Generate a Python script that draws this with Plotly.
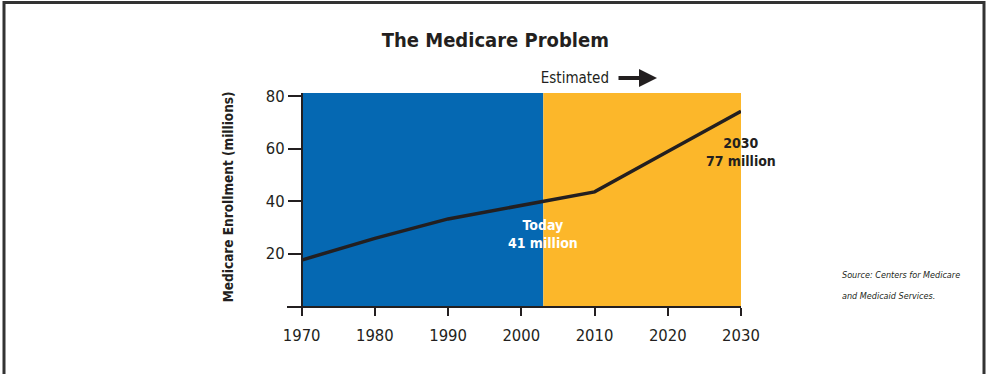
import plotly.graph_objects as go

# Data
years = [1970, 1980, 1990, 2000, 2003, 2010, 2020, 2030]
enrollment = [17.5, 25.8, 33.2, 38.3, 39.8, 43.5, 58.9, 74.2]
today_year = 2003
start_year = 1970
end_year = 2030
band_top = 81.2
x_ticks = [1970, 1980, 1990, 2000, 2010, 2020, 2030]
y_ticks = [20, 40, 60, 80]

BLUE = "#0568B2"
ORANGE = "#FCB72A"
INK = "#231F20"
FONT = "DejaVu Sans, sans-serif"

W, H = 987, 374
ML, MR, MT, MB = 287, 246, 93, 68
PW = W - ML - MR
PH = H - MT - MB


def px(xp):
    return (xp - ML) / PW


def py(yp):
    return (H - MB - yp) / PH


fig = go.Figure()

fig.add_trace(go.Scatter(
    x=years, y=enrollment, mode="lines",
    line=dict(color=INK, width=3.5),
    hoverinfo="skip", showlegend=False,
))

shapes = [
    dict(type="rect", xref="x", yref="y", x0=start_year, x1=today_year, y0=0, y1=band_top,
         fillcolor=BLUE, line=dict(width=0), layer="below"),
    dict(type="rect", xref="x", yref="y", x0=today_year, x1=end_year, y0=0, y1=band_top,
         fillcolor=ORANGE, line=dict(width=0), layer="below"),
    # frame
    dict(type="path", xref="paper", yref="paper",
         path=f"M {px(4)} {py(380)} L {px(4)} {py(2.5)} L {px(984)} {py(2.5)} L {px(984)} {py(380)}",
         line=dict(color="#333333", width=3)),
]

annotations = [
    dict(text="<b>The Medicare Problem</b>", xref="paper", yref="paper",
         x=px(495), y=py(40), showarrow=False,
         font=dict(family=FONT, size=20, color=INK), xanchor="center", yanchor="middle"),
    dict(text="<b>Medicare Enrollment (millions)</b>", xref="paper", yref="paper",
         x=px(228), y=py(197), showarrow=False, textangle=-90,
         font=dict(family=FONT, size=13.5, color=INK), xanchor="center", yanchor="middle"),
    dict(text="Estimated", xref="paper", yref="paper",
         x=px(575), y=py(78), showarrow=False,
         font=dict(family=FONT, size=15, color=INK), xanchor="center", yanchor="middle"),
    dict(text="", xref="paper", yref="paper", x=px(657), y=py(78),
         ax=-40, ay=0, showarrow=True, arrowhead=2, arrowsize=0.9, arrowwidth=4,
         arrowcolor=INK),
    dict(text="<b>Today<br>41 million</b>", xref="x", yref="paper",
         x=today_year, y=py(234), showarrow=False,
         font=dict(family=FONT, size=14, color="white"), xanchor="center", yanchor="middle",
         align="center"),
    dict(text="<b>2030<br>77 million</b>", xref="x", yref="paper",
         x=end_year, y=py(152), showarrow=False,
         font=dict(family=FONT, size=14, color=INK), xanchor="center", yanchor="middle",
         align="center"),
    dict(text="<i>Source: Centers for Medicare</i>", xref="paper", yref="paper",
         x=px(840), y=py(275), showarrow=False, align="left",
         font=dict(family=FONT, size=9, color=INK), xanchor="left", yanchor="middle"),
    dict(text="<i>and Medicaid Services.</i>", xref="paper", yref="paper",
         x=px(840), y=py(296), showarrow=False, align="left",
         font=dict(family=FONT, size=9, color=INK), xanchor="left", yanchor="middle"),
]

fig.update_layout(
    width=W, height=H,
    margin=dict(l=ML, r=MR, t=MT, b=MB, autoexpand=False),
    paper_bgcolor="white", plot_bgcolor="white",
    shapes=shapes, annotations=annotations,
    font=dict(family=FONT, color=INK),
    xaxis=dict(range=[1968, end_year], tickvals=x_ticks, ticktext=[str(t) for t in x_ticks],
               showgrid=False, zeroline=False, showline=True, linecolor=INK, linewidth=2,
               ticks="outside", ticklen=8, tickwidth=2, tickcolor=INK,
               ticklabelstandoff=5,
               tickfont=dict(family=FONT, size=16.5, color=INK), fixedrange=True),
    yaxis=dict(range=[0, band_top], tickvals=y_ticks, ticktext=[str(t) for t in y_ticks],
               anchor="free", position=px(302), showgrid=False, zeroline=False,
               showline=True, linecolor=INK, linewidth=2,
               ticks="outside", ticklen=13, tickwidth=2, tickcolor=INK,
               tickfont=dict(family=FONT, size=16.5, color=INK), fixedrange=True),
)

post = (
    "document.body.style.margin='0';"
    "document.querySelectorAll('.main-svg text, .main-svg tspan').forEach(function(t){"
    "t.style.fontStretch='condensed';});"
)

fig.write_html("out.html", post_script=post, config={"displayModeBar": False})
